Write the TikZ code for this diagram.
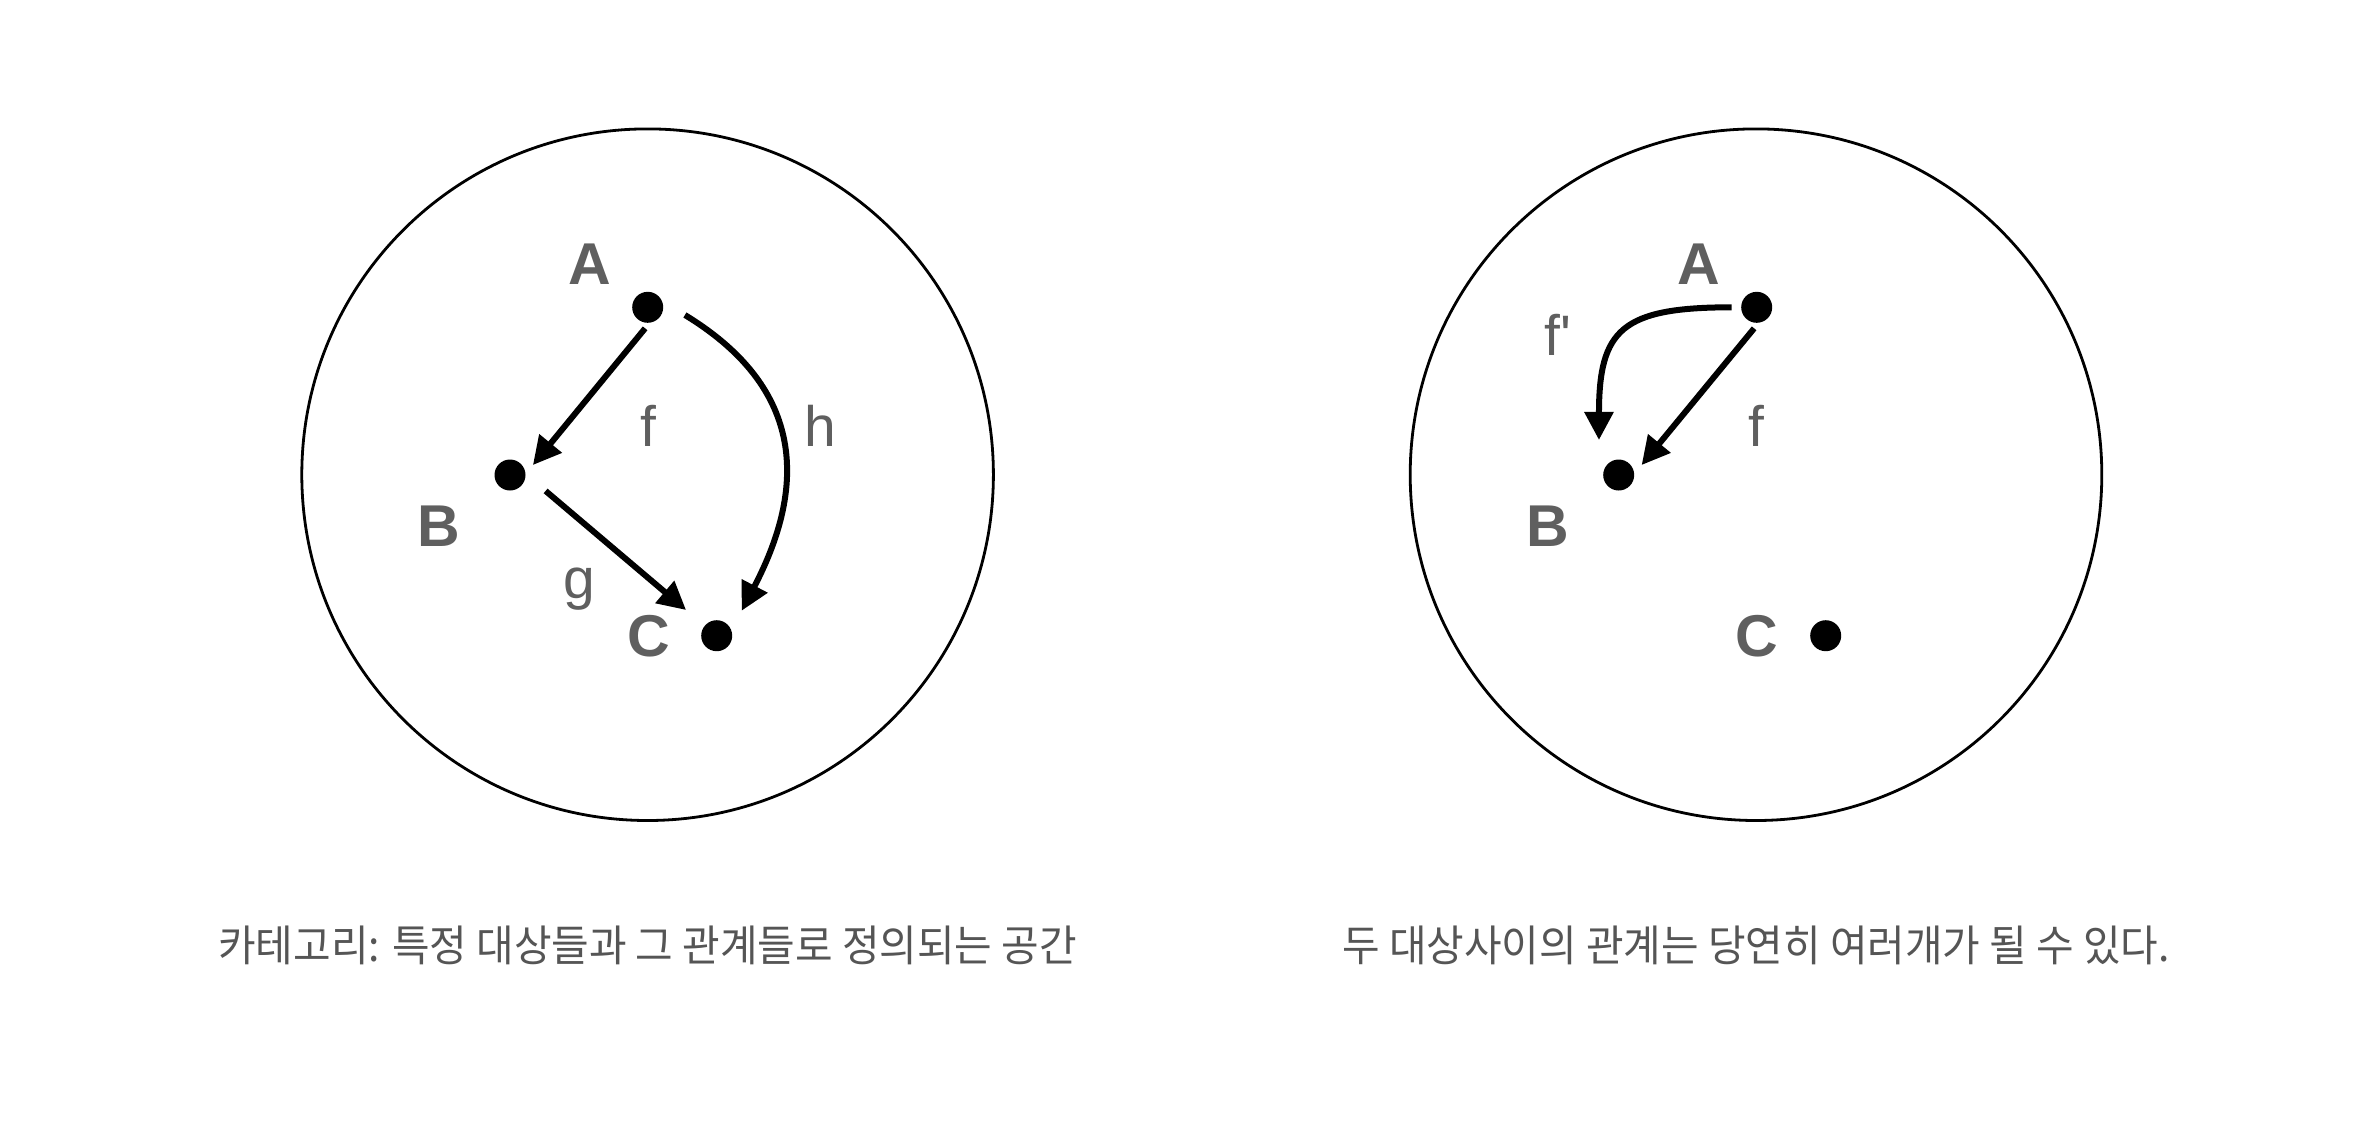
\documentclass[tikz,border=0pt]{standalone}
\usepackage{fontspec}
\setmainfont{Liberation Sans}
\newfontfamily\krfont[FakeStretch=0.95]{Noto Sans CJK KR}
\usetikzlibrary{arrows.meta}
\definecolor{labelgray}{HTML}{5F5F5F}
\definecolor{capgray}{HTML}{555555}
\begin{document}
\begin{tikzpicture}[x=0.5pt,y=-0.5pt,
  dot/.style={circle,fill=black,inner sep=0pt,minimum size=15.5pt},
  ring/.style={circle,draw=black,line width=1.4pt,inner sep=0pt,minimum size=345.8pt},
  vlabel/.style={anchor=base,text=labelgray,font=\fontsize{29.5}{30}\selectfont\bfseries},
  elabel/.style={anchor=base,text=labelgray,font=\fontsize{28.5}{30}\selectfont},
  arr/.style={line width=3pt,-{Triangle[length=14pt,width=14pt]}},
  capt/.style={text=capgray,font=\krfont\fontsize{21.5}{24}\selectfont,inner sep=0pt}
]
\useasboundingbox[fill=white] (0,0) rectangle (2378,1124);

% left panel
\node[ring] (L) at (647.6,474.7) {};
\node[dot] (A1) at (647.7,307.3) {};
\node[dot] (B1) at (510,475) {};
\node[dot] (C1) at (716.7,635.7) {};
\node[vlabel] (lA1) at (590,284) {A};
\node[vlabel] (lB1) at (438.3,546.7) {B};
\node[vlabel] (lC1) at (648.3,656) {C};
\node[elabel] (lf1) at (648.3,446.7) {f};
\node[elabel] (lg1) at (579.3,598) {g};
\node[elabel] (lh1) at (820.5,446.7) {h};
\draw[arr] ([shift={(-97:10.6pt)}]A1.center) -- ([shift={(23.5:12.5pt)}]B1.center);
\draw[arr] ([shift={(-24.1:19.5pt)}]B1.center) -- ([shift={(140:20pt)}]C1.center);
\draw[arr] ([shift={(-11.7:19pt)}]A1.center) .. controls (800,385) and (810,480) .. ([shift={(45:17.7pt)}]C1.center);

% right panel
\node[ring] (R) at (1756,474.7) {};
\node[dot] (A2) at (1756.7,307.3) {};
\node[dot] (B2) at (1618.7,475) {};
\node[dot] (C2) at (1825.7,635.7) {};
\node[vlabel] (lA2) at (1699,284) {A};
\node[vlabel] (lB2) at (1547.7,546.7) {B};
\node[vlabel] (lC2) at (1756.7,656) {C};
\node[elabel] (lf2) at (1756.7,446.7) {f};
\node[elabel] (lfp2) at (1558,355) {f\textquotesingle};
\draw[arr] ([shift={(-97:10.6pt)}]A2.center) -- ([shift={(23.5:12.5pt)}]B2.center);
\draw[arr] ([shift={(180:12.5pt)}]A2.center) to[out=180,in=90,looseness=1.5] ([shift={(119.4:20.1pt)}]B2.center);

% captions
\node[capt] (cap1) at (647.6,945) {카테고리: 특정 대상들과 그 관계들로 정의되는 공간};
\node[capt] (cap2) at (1756,945) {두 대상사이의 관계는 당연히 여러개가 될 수 있다.};
\end{tikzpicture}
\end{document}
